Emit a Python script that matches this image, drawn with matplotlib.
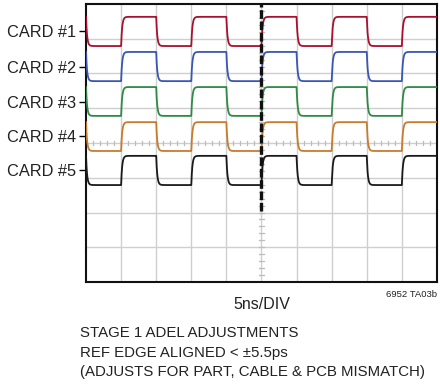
import numpy as np
import matplotlib
matplotlib.use("Agg")
import matplotlib.pyplot as plt

plt.rcParams['font.family'] = ['Liberation Sans Narrow', 'Liberation Sans', 'DejaVu Sans']

# data (units: scope divisions, 5ns/DIV horizontally)
cards = ['CARD #1', 'CARD #2', 'CARD #3', 'CARD #4', 'CARD #5']
colors = ['#a8102e', '#3a56b4', '#2e8a44', '#c97b2c', '#1a1a1a']
high_levels = [7.63, 6.62, 5.61, 4.60, 3.63]
low_levels = [6.79, 5.78, 4.78, 3.77, 2.79]
label_pos = [7.21, 6.20, 5.19, 4.19, 3.21]
edge_times = [0, 1, 2, 3, 4, 5, 6, 7, 8, 9, 10]   # first edge falls, then alternates
ref_edge = 5.0
ref_marker_bottom = 2.05

x_divs = 10
y_divs = 8

fig = plt.figure(figsize=(4.4, 3.87), dpi=100)
ax = fig.add_axes([0.1955, 0.2713, 0.7975, 0.7184])
ax.set_xlim(0, x_divs)
ax.set_ylim(0, y_divs)

# graticule
for gx in range(1, x_divs):
    ax.axvline(gx, color='#cfcfcf', lw=1.0, zorder=1)
for gy in range(1, y_divs):
    ax.axhline(gy, color='#cfcfcf', lw=1.0, zorder=1)
minor = np.arange(0.2, 10, 0.2)
ax.plot(np.repeat(minor, 3), np.tile([3.94, 4.06, np.nan], len(minor)),
        color='#bdbdbd', lw=0.9, zorder=1)
minor_y = np.arange(0.2, 8, 0.2)
ax.plot(np.tile([4.94, 5.06, np.nan], len(minor_y)), np.repeat(minor_y, 3),
        color='#bdbdbd', lw=0.9, zorder=1)

# traces: first-order settling between the edges
tau = 0.03
t = np.linspace(0, x_divs, 5000)
for hi, lo, c in zip(high_levels, low_levels, colors):
    v = np.empty_like(t)
    prev = hi
    for i, te in enumerate(edge_times):
        target = hi if i % 2 == 1 else lo
        t_end = edge_times[i + 1] if i + 1 < len(edge_times) else x_divs + 1
        m = (t >= te) & (t < t_end)
        v[m] = target + (prev - target) * np.exp(-(t[m] - te) / tau)
        if m.any():
            prev = v[m][-1]
    v[t >= x_divs] = v[t < x_divs][-1]
    ax.plot(t, v, color=c, lw=1.3, zorder=3)

# reference edge marker
ax.plot([ref_edge, ref_edge], [ref_marker_bottom, y_divs], color='#111111',
        lw=2.4, linestyle=(0, (2.6, 0.8)), zorder=4, solid_capstyle='butt')

# card labels as y ticks with colored tick marks
ax.set_yticks(label_pos)
ax.set_yticklabels(cards, fontsize=11.8, color='#222222')
ax.tick_params(axis='y', length=5, width=1.0, pad=2)
for tk, c in zip(ax.yaxis.get_major_ticks(), colors):
    tk.tick1line.set_color(c)
ax.set_xticks([])

for s in ax.spines.values():
    s.set_linewidth(1.5)
    s.set_color('#111111')

fig.text(0.595, 0.212, '5ns/DIV', ha='center', va='center', fontsize=11.5, color='#222222')
fig.text(0.994, 0.24, '6952 TA03b', ha='right', va='center', fontsize=6.8, color='#222222')
fig.text(0.182, 0.140, 'STAGE 1 ADEL ADJUSTMENTS', ha='left', va='center', fontsize=10.8, color='#222222')
fig.text(0.182, 0.088, 'REF EDGE ALIGNED < \u00b15.5ps', ha='left', va='center', fontsize=10.8, color='#222222')
fig.text(0.182, 0.038, '(ADJUSTS FOR PART, CABLE & PCB MISMATCH)', ha='left', va='center', fontsize=10.8, color='#222222')

fig.savefig('out.png', dpi=100)
